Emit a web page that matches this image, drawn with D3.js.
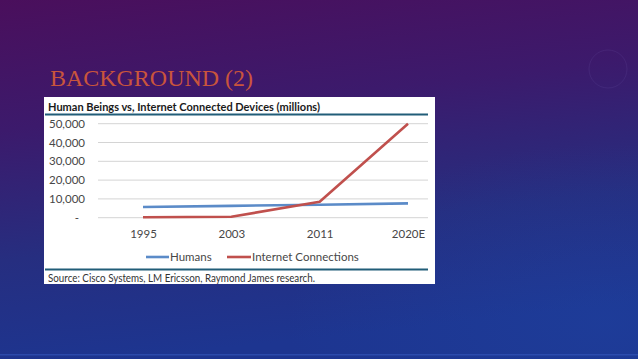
<!DOCTYPE html>
<html>
<head>
<meta charset="utf-8">
<script src="https://cdn.jsdelivr.net/npm/d3@7"></script>
<style>
  html, body { margin: 0; padding: 0; background: #2a2070; }
  svg { display: block; }
</style>
</head>
<body>
<svg id="slide" width="638" height="359"></svg>
<script>
// chart data
var years = ['1995', '2003', '2011', '2020E'];
var humans = [5700, 6300, 6900, 7600];
var connections = [200, 500, 8500, 50000];
var yTicks = [0, 10000, 20000, 30000, 40000, 50000];
var seriesNames = ['Humans', 'Internet Connections'];

var svg = d3.select('#slide');
var defs = svg.append('defs');

// slide background: purple at the top fading into blue
var bg = defs.append('linearGradient')
    .attr('id', 'bg')
    .attr('x1', '0').attr('y1', '0')
    .attr('x2', '0.2').attr('y2', '1');
bg.append('stop').attr('offset', '0').attr('stop-color', '#4a0f5c');
bg.append('stop').attr('offset', '0.35').attr('stop-color', '#3c1a6c');
bg.append('stop').attr('offset', '0.7').attr('stop-color', '#262e80');
bg.append('stop').attr('offset', '1').attr('stop-color', '#1d3590');

var glow = defs.append('radialGradient')
    .attr('id', 'glow')
    .attr('cx', '0.95').attr('cy', '0.9').attr('r', '0.5');
glow.append('stop').attr('offset', '0').attr('stop-color', '#1f48a8').attr('stop-opacity', 0.35);
glow.append('stop').attr('offset', '1').attr('stop-color', '#1f48a8').attr('stop-opacity', 0);

svg.append('rect').attr('width', 638).attr('height', 359).attr('fill', 'url(#bg)');
svg.append('rect').attr('width', 638).attr('height', 359).attr('fill', 'url(#glow)');
svg.append('rect').attr('y', 354).attr('width', 638).attr('height', 1.5)
    .attr('fill', '#3559bd').attr('opacity', 0.6);

// faint decorative ring, top right
svg.append('circle')
    .attr('cx', 608).attr('cy', 69).attr('r', 19)
    .attr('fill', 'none').attr('stroke', '#7a64b8').attr('stroke-opacity', 0.15);

// slide heading
svg.append('text')
    .attr('x', 50).attr('y', 86)
    .attr('font-family', 'Liberation Serif, serif')
    .attr('font-size', 24)
    .attr('fill', '#c9553c')
    .attr('textLength', 203)
    .attr('lengthAdjust', 'spacingAndGlyphs')
    .text('BACKGROUND (2)');

// pasted chart image
svg.append('rect')
    .attr('x', 44).attr('y', 97).attr('width', 391).attr('height', 187)
    .attr('fill', '#ffffff');

var font = 'Lato, Liberation Sans, sans-serif';

svg.append('text')
    .attr('x', 48).attr('y', 110.5)
    .attr('font-family', font).attr('font-weight', 'bold').attr('font-size', 11)
    .attr('fill', '#1a1a1a')
    .attr('textLength', 272).attr('lengthAdjust', 'spacingAndGlyphs')
    .text('Human Beings vs, Internet Connected Devices (millions)');

svg.append('line')
    .attr('x1', 45).attr('x2', 428).attr('y1', 114.5).attr('y2', 114.5)
    .attr('stroke', '#215d78').attr('stroke-width', 2);

var x = d3.scalePoint().domain(years).range([143, 408]);
var y = d3.scaleLinear().domain([0, 50000]).range([217.7, 123.7]);

var fmt = d3.format(',');

// gridlines
svg.append('g')
    .selectAll('line')
    .data(yTicks)
    .join('line')
    .attr('x1', 98).attr('x2', 428)
    .attr('y1', function (d) { return y(d); })
    .attr('y2', function (d) { return y(d); })
    .attr('stroke', '#d4d4d4').attr('stroke-width', 1);

// y axis labels
var yAxis = d3.axisLeft(y)
    .tickValues(yTicks)
    .tickSize(0)
    .tickPadding(0)
    .tickFormat(function (d) { return d === 0 ? '-' : fmt(d); });

var gy = svg.append('g')
    .attr('transform', 'translate(85,0)')
    .call(yAxis);
gy.select('.domain').remove();
gy.selectAll('text')
    .attr('font-family', font).attr('font-size', 11.5).attr('fill', '#474747');
gy.selectAll('.tick').filter(function (d) { return d === 0; })
    .select('text').attr('dx', -6);

// x axis labels
var xAxis = d3.axisBottom(x).tickSize(0).tickPadding(0);
var gx = svg.append('g')
    .attr('transform', 'translate(0,230)')
    .call(xAxis);
gx.select('.domain').remove();
gx.selectAll('text')
    .attr('font-family', font).attr('font-size', 11.5).attr('fill', '#474747');

// series
var line = d3.line()
    .x(function (d, i) { return x(years[i]); })
    .y(function (d) { return y(d); });

svg.append('path')
    .datum(humans)
    .attr('d', line)
    .attr('fill', 'none').attr('stroke', '#5b8bc8').attr('stroke-width', 2.6);

svg.append('path')
    .datum(connections)
    .attr('d', line)
    .attr('fill', 'none').attr('stroke', '#c0504d').attr('stroke-width', 2.6)
    .attr('stroke-linejoin', 'round');

// legend
var legendItems = [
  { name: seriesNames[0], color: '#5b8bc8', x: 146, w: 23 },
  { name: seriesNames[1], color: '#c0504d', x: 227, w: 24 }
];
var lg = svg.append('g').selectAll('g').data(legendItems).join('g')
    .attr('transform', function (d) { return 'translate(' + d.x + ',257)'; });
lg.append('line')
    .attr('x1', 0).attr('x2', function (d) { return d.w; })
    .attr('stroke', function (d) { return d.color; }).attr('stroke-width', 2.6);
lg.append('text')
    .attr('x', function (d) { return d.w + 1; })
    .attr('dy', '0.35em')
    .attr('font-family', font).attr('font-size', 11.5).attr('fill', '#474747')
    .text(function (d) { return d.name; });

svg.append('line')
    .attr('x1', 45).attr('x2', 428).attr('y1', 269.5).attr('y2', 269.5)
    .attr('stroke', '#215d78').attr('stroke-width', 2);

svg.append('text')
    .attr('x', 48).attr('y', 282)
    .attr('font-family', font).attr('font-size', 10.5)
    .attr('fill', '#333333')
    .attr('textLength', 267).attr('lengthAdjust', 'spacingAndGlyphs')
    .text('Source: Cisco Systems, LM Ericsson, Raymond James research.');
</script>
</body>
</html>
